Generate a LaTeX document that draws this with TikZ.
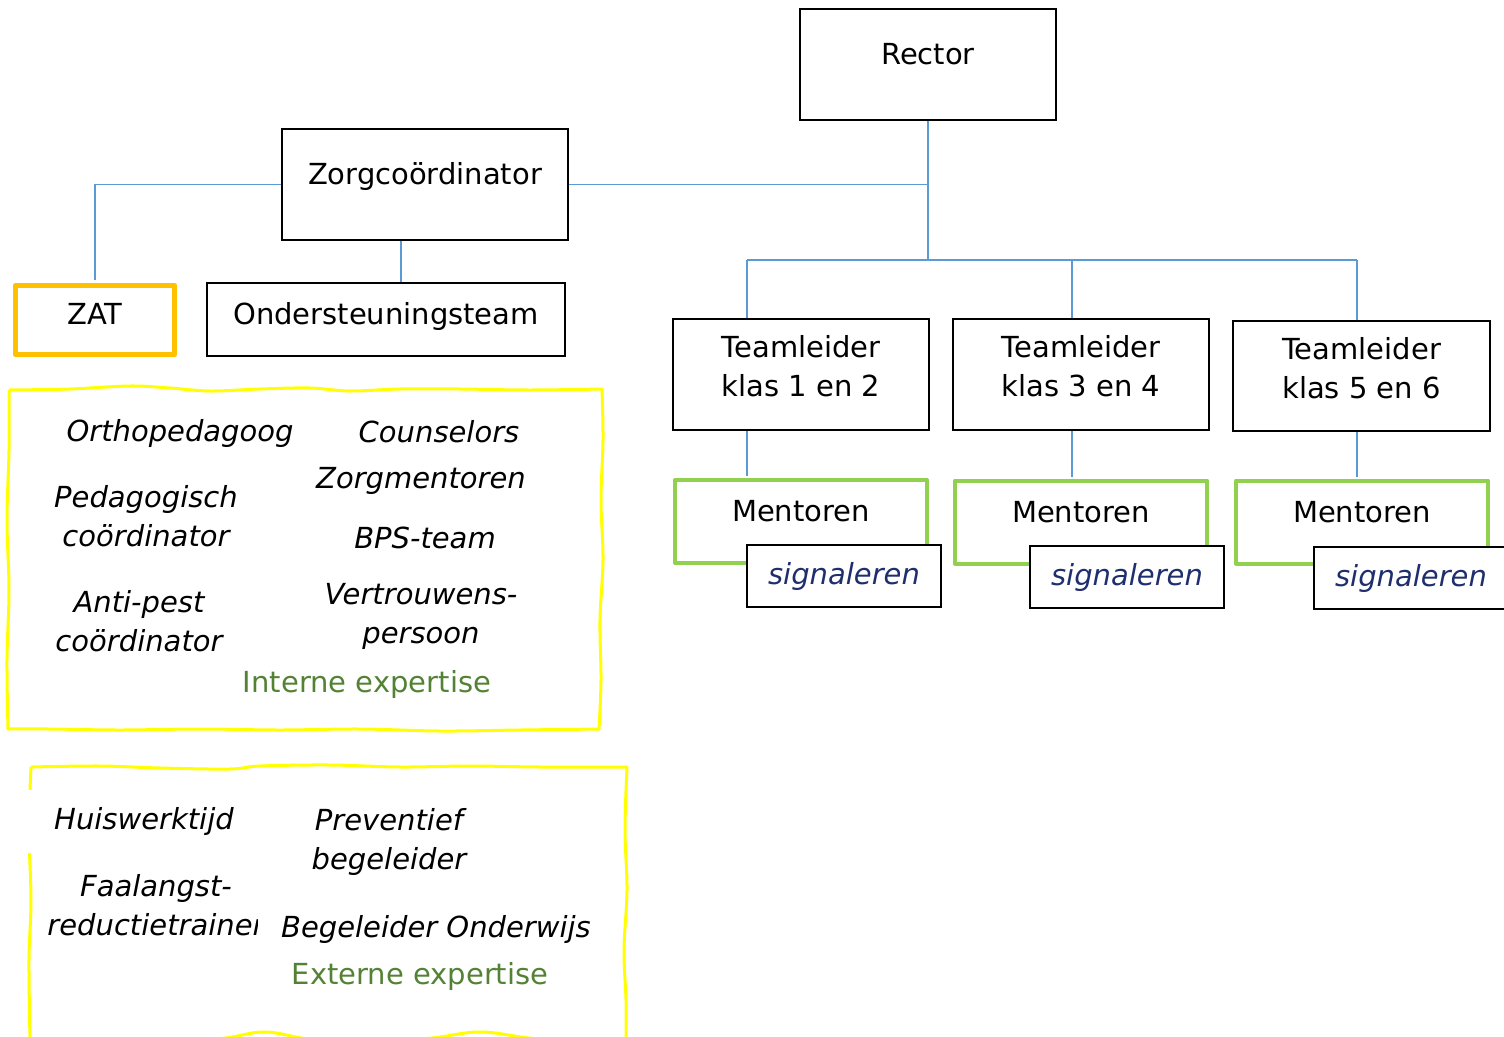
\documentclass[tikz,border=0pt]{standalone}
\usepackage{fontspec}
\setmainfont{DejaVu Sans}
\usetikzlibrary{positioning}

\definecolor{linkblue}{HTML}{5B9BD5}
\definecolor{zatorange}{HTML}{FFC000}
\definecolor{mentorgreen}{HTML}{92D050}
\definecolor{signalblue}{HTML}{1F2F6E}
\definecolor{expgreen}{HTML}{548235}
\definecolor{wavyyellow}{HTML}{FFFF00}

\newcommand{\bigfont}{\fontsize{29pt}{39pt}\selectfont}
\newcommand{\liftup}{\rule[-16.5pt]{0pt}{0pt}}

\begin{document}
\begin{tikzpicture}[x=1pt, y=-1pt, font=\bigfont,
    block_box/.style ={rectangle, draw=black, line width=1.2pt, inner sep=0pt,
      minimum width=256pt, minimum height=111pt},
    block_center/.style ={block_box, text height=22pt, text depth=22pt},
    block_team/.style ={block_box, align=center},
    block_low/.style ={block_box, minimum height=73pt, text height=22pt, text depth=13pt},
    block_zat/.style ={block_low, draw=zatorange, line width=5.5pt, line join=round,
      minimum width=159pt, minimum height=69pt},
    block_mentor/.style ={block_center, draw=mentorgreen, line width=4pt, line join=round,
      minimum width=252pt, minimum height=83pt},
    block_signal/.style ={block_box, fill=white, minimum width=194pt,
      minimum height=62pt, text=signalblue, font=\bigfont\itshape},
    block_text/.style ={inner sep=0pt, align=center, font=\bigfont\itshape},
    block_label/.style ={inner sep=0pt, text=expgreen},
    block_wavy/.style ={draw=wavyyellow, line width=3pt, line join=round},
    line/.style ={draw=linkblue, line width=1.3pt}]
    \useasboundingbox (0,0) rectangle (1504,1036);
    % hand drawn frames round the expertise lists
    \path [block_wavy] plot [smooth, tension=0.6] coordinates {(9,390) (70,389) (130,386) (170,388)
        (210,391) (260,389) (310,388) (350,391) (400,389) (460,389) (530,390) (602,389)}
      -- plot [smooth, tension=0.6] coordinates {(602,389) (603,440) (601,500) (603,560) (600,620)
        (601,680) (599,729)}
      -- plot [smooth, tension=0.6] coordinates {(599,729) (520,730) (440,731) (360,729) (280,730)
        (200,729) (120,730) (50,729) (8,729)}
      -- plot [smooth, tension=0.6] coordinates {(8,729) (7,660) (9,590) (7,520) (9,450) (9,390)};
    \path [block_wavy] plot [smooth, tension=0.6] coordinates {(31,767) (100,766) (160,768) (230,769)
        (260,766) (330,765) (400,767) (470,766) (540,767) (627,767)}
      -- plot [smooth, tension=0.6] coordinates {(627,767) (625,830) (627,890) (624,950) (626,1000)
        (626,1040)}
      -- plot [smooth, tension=0.6] coordinates {(626,1040) (540,1039) (480,1032) (420,1039)
        (320,1040) (265,1032) (215,1039) (120,1040) (30,1040)}
      -- plot [smooth, tension=0.6] coordinates {(30,1040) (29,960) (31,900) (29,830) (31,767)};
    % boxes of the organisation chart
    \node [block_center] (rector) at (928,64.5) {Rector};
    \node [block_center, minimum width=286pt] (zorg) at (425,184.5) {Zorgcoördinator};
    \node [block_zat] (zat) at (95,320) {ZAT};
    \node [block_low, minimum width=358pt] (onder) at (386,319.5) {Ondersteuningsteam};
    \node [block_team] (tl1) at (801,374.5) {Teamleider\\klas 1 en 2\liftup};
    \node [block_team] (tl2) at (1081,374.5) {Teamleider\\klas 3 en 4\liftup};
    \node [block_team, minimum width=257pt, minimum height=110pt] (tl3) at (1361.5,376) {Teamleider\\klas 5 en 6\liftup};
    \node [block_mentor] (men1) at (801,521.5) {Mentoren};
    \node [block_mentor] (men2) at (1081,522) {Mentoren};
    \node [block_mentor] (men3) at (1362,522) {Mentoren};
    \node [block_signal] (sig1) at (844,576) {signaleren};
    \node [block_signal] (sig2) at (1127,577) {signaleren};
    \node [block_signal] (sig3) at (1411,578) {signaleren};
    % internal expertise
    \node [block_text] (ortho) at (180,433) {Orthopedagoog};
    \node [block_text] (couns) at (439,432) {Counselors};
    \node [block_text] (zorgm) at (421,481) {Zorgmentoren};
    \node [block_text] (pedag) at (146,516) {Pedagogisch\\coördinator};
    \node [block_text] (bps) at (425,538) {BPS-team};
    \node [block_text] (antip) at (139,621) {Anti-pest\\coördinator};
    \node [block_text] (vertr) at (421,616) {Vertrouwens-\\persoon};
    \node [block_label] (intern) at (367,684) {Interne expertise};
    % external expertise
    \node [block_text, fill=white, minimum width=236pt, minimum height=63pt] (huisw) at (144,821) {Huiswerktijd};
    \node [block_text] (prev) at (389,842) {Preventief\\begeleider};
    \begin{scope}
      \clip (0,860) rectangle (257,950);
      \node [block_text] (faal) at (156,905) {Faalangst-\\reductietrainer};
    \end{scope}
    \node [block_text] (begon) at (436,929) {Begeleider Onderwijs};
    \node [block_label] (extern) at (420,976) {Externe expertise};
    % connecting nodes with paths
    \coordinate (bus) at (928,260);
    \coordinate (drop) at (401,260);
    \coordinate (d1) at (747,260);
    \coordinate (d2) at (1072,260);
    \coordinate (d3) at (1357,260);
    \begin{scope}[every path/.style=line]
      \path (rector) -- (bus);
      \path (zorg.east) -- (zorg.east -| bus);
      \path [shorten >=2.5pt] (zorg.west) -| (zat.north);
      \path (zorg.south -| drop) -- (onder.north -| drop);
      \path (d1) -- (d3);
      \foreach \i in {1,2,3} {
        \path (d\i) -- (d\i |- tl\i.north);
        \path [shorten >=2pt] (d\i |- tl\i.south) -- (d\i |- men\i.north);
      }
    \end{scope}
\end{tikzpicture}
\end{document}
